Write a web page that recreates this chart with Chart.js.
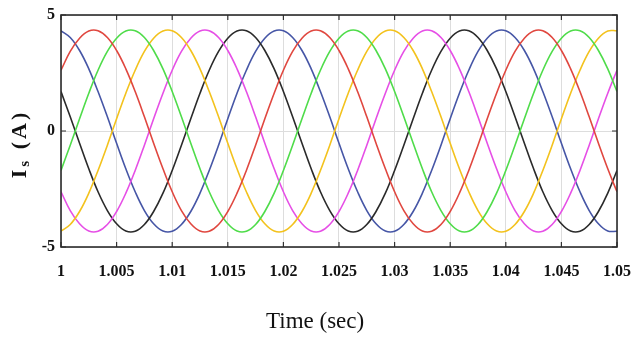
<!DOCTYPE html>
<html>
<head>
<meta charset="utf-8">
<script src="https://cdn.jsdelivr.net/npm/chart.js@4.4.0/dist/chart.umd.min.js"></script>
<style>
  html, body { margin: 0; padding: 0; background: #ffffff; }
  canvas { display: block; }
</style>
</head>
<body>
<canvas id="c" width="631" height="340"></canvas>
<script>
// ---- data ----
const time = [
  1.00000, 1.00083, 1.00167, 1.00250, 1.00333, 1.00417, 1.00500, 1.00583, 1.00667, 1.00750,
  1.00833, 1.00917, 1.01000, 1.01083, 1.01167, 1.01250, 1.01333, 1.01417, 1.01500, 1.01583,
  1.01667, 1.01750, 1.01833, 1.01917, 1.02000, 1.02083, 1.02167, 1.02250, 1.02333, 1.02417,
  1.02500, 1.02583, 1.02667, 1.02750, 1.02833, 1.02917, 1.03000, 1.03083, 1.03167, 1.03250,
  1.03333, 1.03417, 1.03500, 1.03583, 1.03667, 1.03750, 1.03833, 1.03917, 1.04000, 1.04083,
  1.04167, 1.04250, 1.04333, 1.04417, 1.04500, 1.04583, 1.04667, 1.04750, 1.04833, 1.04917,
  1.05000
];

const redPhase = [
  2.62, 3.43, 4.00, 4.31, 4.32, 4.03, 3.47, 2.68, 1.70, 0.61, -0.53, -1.63, -2.62, -3.43, -4.00, -4.31, -4.32, -4.03, -3.47, -2.68, -1.70, -0.61, 0.53, 1.63,
  2.62, 3.43, 4.00, 4.31, 4.32, 4.03, 3.47, 2.68, 1.70, 0.61, -0.53, -1.63, -2.62, -3.43, -4.00, -4.31, -4.32, -4.03, -3.47, -2.68, -1.70, -0.61, 0.53, 1.63,
  2.62, 3.43, 4.00, 4.31, 4.32, 4.03, 3.47, 2.68, 1.70, 0.61, -0.53, -1.63, -2.62
];
const greenPhase = [
  -1.70, -0.61, 0.53, 1.63,
  2.62, 3.43, 4.00, 4.31, 4.32, 4.03, 3.47, 2.68, 1.70, 0.61, -0.53, -1.63, -2.62, -3.43, -4.00, -4.31, -4.32, -4.03, -3.47, -2.68, -1.70, -0.61, 0.53, 1.63,
  2.62, 3.43, 4.00, 4.31, 4.32, 4.03, 3.47, 2.68, 1.70, 0.61, -0.53, -1.63, -2.62, -3.43, -4.00, -4.31, -4.32, -4.03, -3.47, -2.68, -1.70, -0.61, 0.53, 1.63,
  2.62, 3.43, 4.00, 4.31, 4.32, 4.03, 3.47, 2.68, 1.70
];
const yellowPhase = [
  -4.32, -4.03, -3.47, -2.68, -1.70, -0.61, 0.53, 1.63,
  2.62, 3.43, 4.00, 4.31, 4.32, 4.03, 3.47, 2.68, 1.70, 0.61, -0.53, -1.63, -2.62, -3.43, -4.00, -4.31, -4.32, -4.03, -3.47, -2.68, -1.70, -0.61, 0.53, 1.63,
  2.62, 3.43, 4.00, 4.31, 4.32, 4.03, 3.47, 2.68, 1.70, 0.61, -0.53, -1.63, -2.62, -3.43, -4.00, -4.31, -4.32, -4.03, -3.47, -2.68, -1.70, -0.61, 0.53, 1.63,
  2.62, 3.43, 4.00, 4.31, 4.32
];
const magentaPhase = [
  -2.62, -3.43, -4.00, -4.31, -4.32, -4.03, -3.47, -2.68, -1.70, -0.61, 0.53, 1.63,
  2.62, 3.43, 4.00, 4.31, 4.32, 4.03, 3.47, 2.68, 1.70, 0.61, -0.53, -1.63, -2.62, -3.43, -4.00, -4.31, -4.32, -4.03, -3.47, -2.68, -1.70, -0.61, 0.53, 1.63,
  2.62, 3.43, 4.00, 4.31, 4.32, 4.03, 3.47, 2.68, 1.70, 0.61, -0.53, -1.63, -2.62, -3.43, -4.00, -4.31, -4.32, -4.03, -3.47, -2.68, -1.70, -0.61, 0.53, 1.63,
  2.62
];
const blackPhase = [
  1.70, 0.61, -0.53, -1.63, -2.62, -3.43, -4.00, -4.31, -4.32, -4.03, -3.47, -2.68, -1.70, -0.61, 0.53, 1.63,
  2.62, 3.43, 4.00, 4.31, 4.32, 4.03, 3.47, 2.68, 1.70, 0.61, -0.53, -1.63, -2.62, -3.43, -4.00, -4.31, -4.32, -4.03, -3.47, -2.68, -1.70, -0.61, 0.53, 1.63,
  2.62, 3.43, 4.00, 4.31, 4.32, 4.03, 3.47, 2.68, 1.70, 0.61, -0.53, -1.63, -2.62, -3.43, -4.00, -4.31, -4.32, -4.03, -3.47, -2.68, -1.70
];
const bluePhase = [
  4.32, 4.03, 3.47, 2.68, 1.70, 0.61, -0.53, -1.63, -2.62, -3.43, -4.00, -4.31, -4.32, -4.03, -3.47, -2.68, -1.70, -0.61, 0.53, 1.63,
  2.62, 3.43, 4.00, 4.31, 4.32, 4.03, 3.47, 2.68, 1.70, 0.61, -0.53, -1.63, -2.62, -3.43, -4.00, -4.31, -4.32, -4.03, -3.47, -2.68, -1.70, -0.61, 0.53, 1.63,
  2.62, 3.43, 4.00, 4.31, 4.32, 4.03, 3.47, 2.68, 1.70, 0.61, -0.53, -1.63, -2.62, -3.43, -4.00, -4.31, -4.32
];

const xTickValues = [1, 1.005, 1.01, 1.015, 1.02, 1.025, 1.03, 1.035, 1.04, 1.045, 1.05];
const xTickLabels = ['1', '1.005', '1.01', '1.015', '1.02', '1.025', '1.03', '1.035', '1.04', '1.045', '1.05'];
const yTickValues = [-5, 0, 5];
const yTickLabels = ['-5', '0', '5'];

const xTitle = 'Time (sec)';
const yTitleMain = 'I';
const yTitleSub = 's';
const yTitleRest = ' (A)';

// ---- styling ----
const seriesDefs = [
  { data: redPhase,     color: '#e0473f' },
  { data: greenPhase,   color: '#4fdc4a' },
  { data: yellowPhase,  color: '#f3c21d' },
  { data: magentaPhase, color: '#e64fe6' },
  { data: blackPhase,   color: '#2a2a2a' },
  { data: bluePhase,    color: '#4656a6' }
];

const datasets = seriesDefs.map(s => ({
  data: s.data.map((v, i) => ({ x: time[i], y: v })),
  borderColor: s.color,
  borderWidth: 1.6,
  pointRadius: 0,
  tension: 0.4,
  fill: false
}));

const serif = "'Liberation Serif', 'Times New Roman', serif";

const framePlugin = {
  id: 'frame',
  afterDraw(chart) {
    const { ctx, chartArea: a, scales } = chart;
    ctx.save();
    // inner tick marks
    ctx.strokeStyle = '#333';
    ctx.lineWidth = 1.2;
    const tl = 5;
    xTickValues.forEach(v => {
      const px = scales.x.getPixelForValue(v);
      ctx.beginPath();
      ctx.moveTo(px, a.top); ctx.lineTo(px, a.top + tl);
      ctx.moveTo(px, a.bottom); ctx.lineTo(px, a.bottom - tl);
      ctx.stroke();
    });
    yTickValues.forEach(v => {
      const py = scales.y.getPixelForValue(v);
      ctx.beginPath();
      ctx.moveTo(a.left, py); ctx.lineTo(a.left + tl, py);
      ctx.moveTo(a.right, py); ctx.lineTo(a.right - tl, py);
      ctx.stroke();
    });
    // frame
    ctx.strokeStyle = '#2b2b2b';
    ctx.lineWidth = 1.6;
    ctx.strokeRect(a.left, a.top, a.right - a.left, a.bottom - a.top);

    // x title
    ctx.fillStyle = '#111';
    ctx.font = "23px " + serif;
    ctx.textAlign = 'center';
    ctx.textBaseline = 'middle';
    ctx.fillText(xTitle, a.left + (a.right - a.left) * 0.457, a.bottom + 75);

    // y title (rotated, with subscript)
    ctx.translate(18, (a.top + a.bottom) / 2 + 13);
    ctx.rotate(-Math.PI / 2);
    ctx.textBaseline = 'alphabetic';
    ctx.textAlign = 'left';
    if ('letterSpacing' in ctx) ctx.letterSpacing = '3px';
    const mainFont = "bold 22px " + serif;
    const subFont = "bold 15px " + serif;
    ctx.font = mainFont;
    const wMain = ctx.measureText(yTitleMain).width;
    const wRest = ctx.measureText(yTitleRest).width;
    ctx.font = subFont;
    const wSub = ctx.measureText(yTitleSub).width;
    const total = wMain + wSub + wRest;
    let x0 = -total / 2;
    const base = 8;
    ctx.font = mainFont;
    ctx.fillText(yTitleMain, x0, base);
    x0 += wMain;
    ctx.font = subFont;
    ctx.fillText(yTitleSub, x0, base + 3);
    x0 += wSub;
    ctx.font = mainFont;
    ctx.fillText(yTitleRest, x0, base);
    ctx.restore();
  }
};

new Chart(document.getElementById('c'), {
  type: 'line',
  data: { datasets },
  options: {
    responsive: false,
    animation: false,
    devicePixelRatio: 1,
    layout: { padding: { left: 0, right: 0, top: 15, bottom: 0 } },
    plugins: { legend: { display: false }, tooltip: { enabled: false } },
    scales: {
      x: {
        type: 'linear',
        min: 1,
        max: 1.05,
        afterBuildTicks: s => { s.ticks = xTickValues.map(v => ({ value: v })); },
        afterFit: s => { s.height = 93; s.paddingRight = 14; s.paddingLeft = 0; },
        grid: { color: '#dddddd', lineWidth: 1, drawTicks: false },
        border: { display: false },
        ticks: {
          padding: 15,
          color: '#111',
          maxRotation: 0,
          autoSkip: false,
          font: { family: serif, size: 16, weight: 'bold' },
          callback: (v, i) => xTickLabels[i]
        }
      },
      y: {
        min: -5,
        max: 5,
        afterBuildTicks: s => { s.ticks = yTickValues.map(v => ({ value: v })); },
        afterFit: s => { s.width = 61; s.paddingTop = 0; s.paddingBottom = 0; },
        grid: { color: '#dddddd', lineWidth: 1, drawTicks: false },
        border: { display: false },
        ticks: {
          padding: 6,
          color: '#111',
          font: { family: serif, size: 16, weight: 'bold' },
          callback: (v, i) => yTickLabels[i]
        }
      }
    }
  },
  plugins: [framePlugin]
});
</script>
</body>
</html>
